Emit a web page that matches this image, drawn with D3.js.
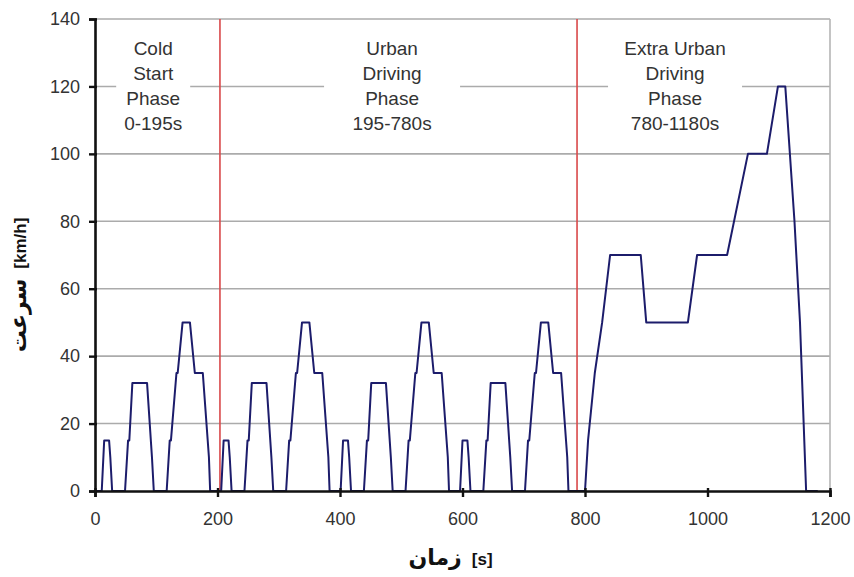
<!DOCTYPE html>
<html>
<head>
<meta charset="utf-8">
<script src="https://cdn.jsdelivr.net/npm/d3@7"></script>
<style>
  body { margin: 0; background: #fff; }
  svg { display: block; }
  text { font-family: "Liberation Sans", Arial, sans-serif; }
</style>
</head>
<body>
<div id="chart"></div>
<script>
// NEDC driving cycle
const timeS = [
  0, 11, 15, 23, 25, 28, 49, 54, 56, 61, 85, 93, 96, 117, 122, 124, 133, 135, 143, 155, 163, 176, 186, 188,
  206, 210, 218, 220, 223, 244, 249, 251, 256, 280, 288, 291, 312, 317, 319, 328, 330, 338, 350, 358, 371, 381, 383,
  401, 405, 413, 415, 418, 439, 444, 446, 451, 475, 483, 486, 507, 512, 514, 523, 525, 533, 545, 553, 566, 576, 578,
  596, 600, 608, 610, 613, 634, 639, 641, 646, 670, 678, 681, 702, 707, 709, 718, 720, 728, 740, 748, 761, 771, 773,
  800, 805, 816, 828, 841, 891, 900, 968, 983, 1032, 1066, 1097, 1115, 1127, 1142, 1151, 1161, 1180
];
const speedKmh = [
  0, 0, 15, 15, 10, 0, 0, 15, 15, 32, 32, 10, 0, 0, 15, 15, 35, 35, 50, 50, 35, 35, 10, 0,
  0, 15, 15, 10, 0, 0, 15, 15, 32, 32, 10, 0, 0, 15, 15, 35, 35, 50, 50, 35, 35, 10, 0,
  0, 15, 15, 10, 0, 0, 15, 15, 32, 32, 10, 0, 0, 15, 15, 35, 35, 50, 50, 35, 35, 10, 0,
  0, 15, 15, 10, 0, 0, 15, 15, 32, 32, 10, 0, 0, 15, 15, 35, 35, 50, 50, 35, 35, 10, 0,
  0, 15, 35, 50, 70, 70, 50, 50, 70, 70, 100, 100, 120, 120, 80, 50, 0, 0
];
const phaseBounds = [204, 787];
const phaseLabels = [
  ["Cold", "Start", "Phase", "0-195s"],
  ["Urban", "Driving", "Phase", "195-780s"],
  ["Extra Urban", "Driving", "Phase", "780-1180s"]
];
const phaseLabelT = [95, 485, 947];
const xTicks = [0, 200, 400, 600, 800, 1000, 1200];
const yTicks = [0, 20, 40, 60, 80, 100, 120, 140];
const xTitle = "زمان";
const xUnit = "[s]";
const yTitle = "سرعت";
const yUnit = "[km/h]";

const margin = {top: 19, right: 24, bottom: 86, left: 95};
const W = 854, H = 577;
const width = W - margin.left - margin.right;
const height = H - margin.top - margin.bottom;

const svg = d3.select("#chart").append("svg")
    .attr("width", W)
    .attr("height", H);
const g = svg.append("g")
    .attr("transform", `translate(${margin.left},${margin.top})`);

const x = d3.scaleLinear().domain([0, 1200]).range([0, width]);
const y = d3.scaleLinear().domain([0, 140]).range([height, 0]);

// grid
g.append("g")
    .selectAll("line")
    .data(yTicks.filter(d => d > 0))
    .join("line")
        .attr("x1", 0)
        .attr("x2", width)
        .attr("y1", d => y(d))
        .attr("y2", d => y(d))
        .attr("stroke", "#ababab")
        .attr("stroke-width", 1.6);
g.append("line")
    .attr("x1", width).attr("x2", width)
    .attr("y1", 0).attr("y2", height)
    .attr("stroke", "#b5b5b5")
    .attr("stroke-width", 1.6);

// phase boundaries
g.append("g")
    .selectAll("line")
    .data(phaseBounds)
    .join("line")
        .attr("x1", d => x(d))
        .attr("x2", d => x(d))
        .attr("y1", 0)
        .attr("y2", height)
        .attr("stroke", "#d9484a")
        .attr("stroke-width", 1.6);

// phase labels, white box behind
const boxHalf = [37, 68, 67];
const lineH = 25;
phaseLabels.forEach((lines, i) => {
    const cx = x(phaseLabelT[i]);
    const cy = y(120);
    const top = cy - lines.length * lineH / 2;
    g.append("rect")
        .attr("x", cx - boxHalf[i])
        .attr("y", top - 4)
        .attr("width", boxHalf[i] * 2)
        .attr("height", lines.length * lineH + 6)
        .attr("fill", "#fff");
    g.append("g")
        .selectAll("text")
        .data(lines)
        .join("text")
            .attr("x", cx)
            .attr("y", (d, j) => top + j * lineH + 19)
            .attr("text-anchor", "middle")
            .attr("font-size", 19)
            .attr("fill", "#333")
            .text(d => d);
});

// speed trace
const pts = timeS.map((t, i) => [t, speedKmh[i]]);
g.append("path")
    .datum(pts)
    .attr("fill", "none")
    .attr("stroke", "#1c1c6b")
    .attr("stroke-width", 2)
    .attr("stroke-linejoin", "round")
    .attr("d", d3.line().x(d => x(d[0])).y(d => y(d[1])));

// axes
const yAxis = g.append("g")
    .call(d3.axisLeft(y).tickValues(yTicks).tickSize(6).tickPadding(9).tickFormat(d3.format("d")));
const xAxis = g.append("g")
    .attr("transform", `translate(0,${height})`)
    .call(d3.axisBottom(x).tickValues(xTicks).tickSize(6).tickPadding(15).tickFormat(d3.format("d")));
[xAxis, yAxis].forEach(a => {
    a.select(".domain").attr("stroke", "#111").attr("stroke-width", 2.6);
    a.selectAll(".tick line").attr("stroke", "#111").attr("stroke-width", 2.4);
    a.selectAll(".tick text")
        .attr("font-size", 18)
        .attr("fill", "#333")
        .style("font-family", "'Liberation Sans', Arial, sans-serif");
});
xAxis.selectAll(".tick line").attr("y1", -3);
yAxis.selectAll(".tick line").attr("x2", 2).attr("x1", -6);

// axis titles
const xt = svg.append("text")
    .attr("x", margin.left + width / 2 - 12)
    .attr("y", 565)
    .attr("text-anchor", "middle")
    .attr("fill", "#111");
xt.append("tspan")
    .style("font-family", "'DejaVu Sans', sans-serif")
    .attr("font-weight", "bold")
    .attr("font-size", 22)
    .text(xTitle);
xt.append("tspan")
    .attr("font-weight", "bold")
    .attr("font-size", 17)
    .attr("dx", 10)
    .text(xUnit);

const yt = svg.append("text")
    .attr("transform", `translate(26,${margin.top + height / 2 + 30}) rotate(-90)`)
    .attr("text-anchor", "middle")
    .attr("fill", "#111");
yt.append("tspan")
    .style("font-family", "'DejaVu Sans', sans-serif")
    .attr("font-weight", "bold")
    .attr("font-size", 22)
    .text(yTitle);
yt.append("tspan")
    .attr("font-weight", "bold")
    .attr("font-size", 17)
    .attr("dx", 10)
    .text(yUnit);
</script>
</body>
</html>
